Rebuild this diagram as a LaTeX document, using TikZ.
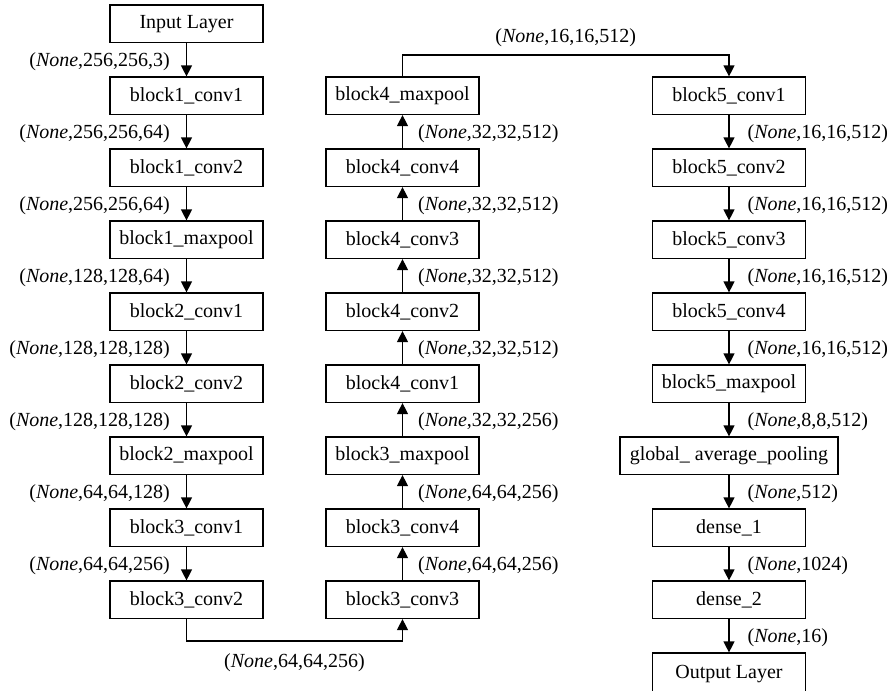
\documentclass[tikz,border=0pt]{standalone}
\usepackage{fontspec}
\setmainfont{Liberation Serif}
\usetikzlibrary{arrows.meta}
\begin{document}
\begin{tikzpicture}[x=1pt,y=-1pt,
  layer/.style={draw, line width=1.2pt, minimum width=153pt, minimum height=37.5pt, inner sep=0pt, font=\fontsize{20}{24}\selectfont},
  conn/.style={line width=1.2pt, -{Triangle[length=11pt,width=11pt]}},
  lblL/.style={anchor=east, inner sep=0pt, font=\fontsize{20}{24}\selectfont},
  lblR/.style={anchor=west, inner sep=0pt, font=\fontsize{20}{24}\selectfont},
  lbl/.style={inner sep=0pt, font=\fontsize{20}{24}\selectfont}]
\useasboundingbox (0,0) rectangle (892,691);
% column 1
\node[layer] (in)  at (186.5, 23.75) {Input Layer};
\node[layer] (c11) at (186.5, 95.75) {block1\_conv1};
\node[layer] (c12) at (186.5,167.75) {block1\_conv2};
\node[layer] (m1)  at (186.5,239.75) {block1\_maxpool};
\node[layer] (c21) at (186.5,311.75) {block2\_conv1};
\node[layer] (c22) at (186.5,383.75) {block2\_conv2};
\node[layer] (m2)  at (186.5,455.75) {block2\_maxpool};
\node[layer] (c31) at (186.5,527.75) {block3\_conv1};
\node[layer] (c32) at (186.5,599.75) {block3\_conv2};
% column 2
\node[layer] (m4)  at (402.5, 95.75) {block4\_maxpool};
\node[layer] (c44) at (402.5,167.75) {block4\_conv4};
\node[layer] (c43) at (402.5,239.75) {block4\_conv3};
\node[layer] (c42) at (402.5,311.75) {block4\_conv2};
\node[layer] (c41) at (402.5,383.75) {block4\_conv1};
\node[layer] (m3)  at (402.5,455.75) {block3\_maxpool};
\node[layer] (c34) at (402.5,527.75) {block3\_conv4};
\node[layer] (c33) at (402.5,599.75) {block3\_conv3};
% column 3
\node[layer] (c51) at (729, 95.75) {block5\_conv1};
\node[layer] (c52) at (729,167.75) {block5\_conv2};
\node[layer] (c53) at (729,239.75) {block5\_conv3};
\node[layer] (c54) at (729,311.75) {block5\_conv4};
\node[layer] (m5)  at (729,383.75) {block5\_maxpool};
\node[layer, minimum width=218pt] (gap) at (729,455.75) {global\_ average\_pooling};
\node[layer] (d1)  at (729,527.75) {dense\_1};
\node[layer] (d2)  at (729,599.75) {dense\_2};
\node[layer, minimum height=42pt] (out) at (729,674) {Output Layer};
% column 1 connectors
\foreach \a/\b/\t in {in/c11/{256,256,3}, c11/c12/{256,256,64}, c12/m1/{256,256,64}, m1/c21/{128,128,64}, c21/c22/{128,128,128}, c22/m2/{128,128,128}, m2/c31/{64,64,128}, c31/c32/{64,64,256}}{
  \draw[conn] (\a) -- (\b) node[lblL, pos=0.55, xshift=-16pt] {(\textit{None},\t)};
}
% column 2 connectors (upward)
\foreach \a/\b/\t in {c44/m4/{32,32,512}, c43/c44/{32,32,512}, c42/c43/{32,32,512}, c41/c42/{32,32,512}, m3/c41/{32,32,256}, c34/m3/{64,64,256}, c33/c34/{64,64,256}}{
  \draw[conn] (\a) -- (\b) node[lblR, pos=0.45, xshift=15pt] {(\textit{None},\t)};
}
% column 3 connectors
\foreach \a/\b/\t in {c51/c52/{16,16,512}, c52/c53/{16,16,512}, c53/c54/{16,16,512}, c54/m5/{16,16,512}, m5/gap/{8,8,512}, gap/d1/{512}, d1/d2/{1024}, d2/out/{16}}{
  \draw[conn] (\a) -- (\b) node[lblR, pos=0.55, xshift=18pt] {(\textit{None},\t)};
}
% cross connectors
\coordinate (tl) at (402.5,55);
\coordinate (tr) at (729,55);
\draw[conn] (m4.north) -- (tl) -- node[lbl, above=8pt] {(\textit{None},16,16,512)} (tr) -- (c51.north);
\coordinate (bl) at (186.5,641);
\coordinate (br) at (402.5,641);
\draw[conn] (c32.south) -- (bl) -- node[lbl, below=12pt] {(\textit{None},64,64,256)} (br) -- (c33.south);
\end{tikzpicture}
\end{document}
